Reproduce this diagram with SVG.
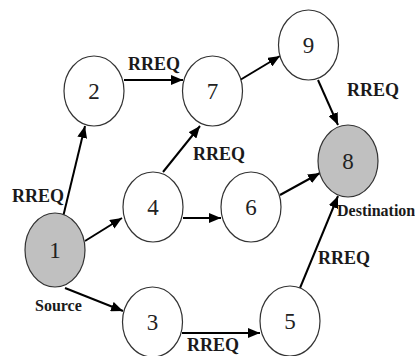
<svg xmlns="http://www.w3.org/2000/svg" width="415" height="356" viewBox="0 0 415 356">
<style>
.node ellipse{fill:#fff;stroke:#333;stroke-width:1.2}
.node.end ellipse{fill:#c0c0c0}
.num{font-family:"Liberation Serif","Times New Roman",serif;font-size:23px;fill:#222;text-anchor:middle}
.lbl{font-family:"Liberation Serif","Times New Roman",serif;font-size:18px;font-weight:bold;fill:#1a1a1a}
.sm{font-family:"Liberation Serif","Times New Roman",serif;font-size:16px;font-weight:bold;fill:#1a1a1a}
#edges line{stroke:#000;stroke-width:2;marker-end:url(#ah)}
</style>
<defs>
<marker id="ah" markerUnits="userSpaceOnUse" markerWidth="13" markerHeight="10" refX="12" refY="5" orient="auto">
<path d="M0,0 L12,5 L0,10 z" fill="#000"/>
</marker>
</defs>
<rect width="415" height="356" fill="#fff"/>
<g id="edges">
<line x1="63" y1="217" x2="85" y2="126"/>
<line x1="124" y1="80" x2="183" y2="80"/>
<line x1="163" y1="172" x2="200" y2="126"/>
<line x1="240" y1="80" x2="280" y2="56"/>
<line x1="318" y1="80" x2="338" y2="125"/>
<line x1="183" y1="218" x2="221" y2="218"/>
<line x1="280" y1="195" x2="320" y2="173"/>
<line x1="85" y1="241" x2="122" y2="218"/>
<line x1="65" y1="288" x2="123" y2="311"/>
<line x1="182" y1="333" x2="260" y2="333"/>
<line x1="300" y1="288" x2="338" y2="196"/>
</g>
<g id="labels">
<text class="lbl" x="128" y="70">RREQ</text>
<text class="lbl" x="347" y="96">RREQ</text>
<text class="lbl" x="193" y="160">RREQ</text>
<text class="lbl" x="12" y="202">RREQ</text>
<text class="lbl" x="318" y="264">RREQ</text>
<text class="lbl" x="187" y="351">RREQ</text>
<text class="sm" x="35" y="311">Source</text>
<text class="sm" x="337" y="216">Destination</text>
</g>
<g id="n1" class="node end"><ellipse cx="55" cy="250" rx="30" ry="37"/><text class="num" x="55" y="258">1</text></g>
<g id="n2" class="node"><ellipse cx="94" cy="91" rx="30" ry="35"/><text class="num" x="94" y="99">2</text></g>
<g id="n3" class="node"><ellipse cx="152.5" cy="322" rx="30" ry="35"/><text class="num" x="152.5" y="330">3</text></g>
<g id="n4" class="node"><ellipse cx="153" cy="207" rx="30" ry="35"/><text class="num" x="153" y="215">4</text></g>
<g id="n5" class="node"><ellipse cx="290" cy="321" rx="30" ry="35"/><text class="num" x="290" y="329">5</text></g>
<g id="n6" class="node"><ellipse cx="251" cy="207" rx="30" ry="35"/><text class="num" x="251" y="215">6</text></g>
<g id="n7" class="node"><ellipse cx="212.5" cy="91" rx="30" ry="35"/><text class="num" x="212.5" y="99">7</text></g>
<g id="n8" class="node end"><ellipse cx="348" cy="161" rx="30" ry="36"/><text class="num" x="348" y="169">8</text></g>
<g id="n9" class="node"><ellipse cx="308.5" cy="45" rx="30" ry="35"/><text class="num" x="308.5" y="53">9</text></g>
</svg>
